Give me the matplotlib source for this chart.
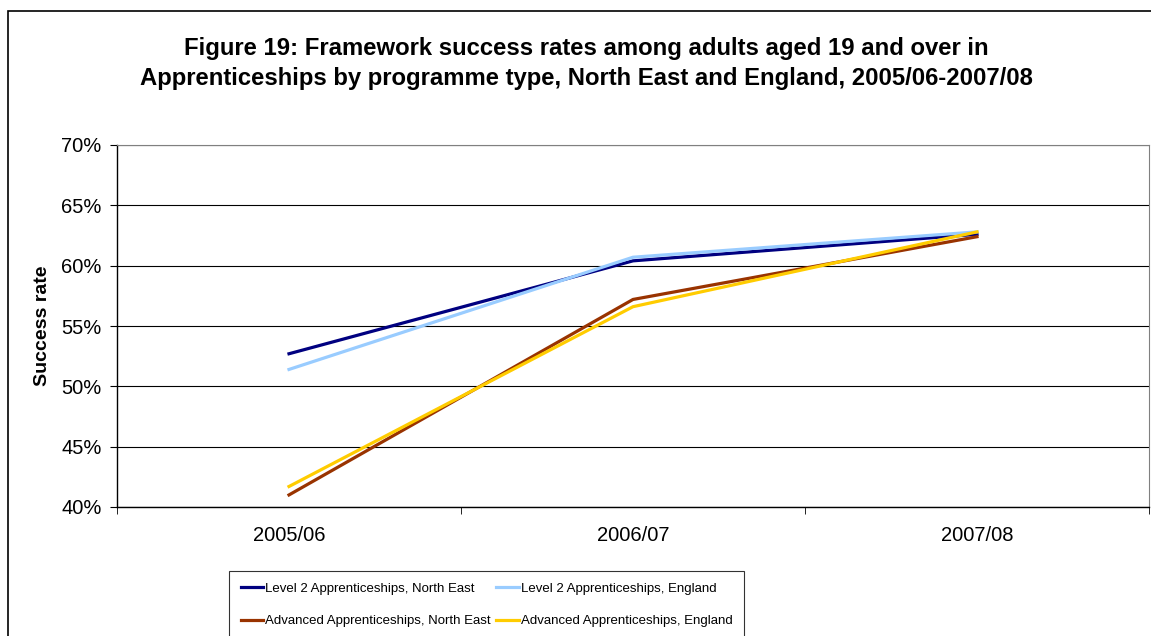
import matplotlib
matplotlib.use("Agg")
import matplotlib.pyplot as plt
from matplotlib.patches import Rectangle
from matplotlib.ticker import FuncFormatter, FixedLocator

plt.rcParams['font.family'] = ['Liberation Sans', 'DejaVu Sans']

# Success rates (%) by year
years = ['2005/06', '2006/07', '2007/08']
level2_north_east = [52.7, 60.4, 62.6]
level2_england = [51.4, 60.7, 62.8]
advanced_north_east = [41.0, 57.2, 62.4]
advanced_england = [41.7, 56.6, 62.8]

series = [
    ('Level 2 Apprenticeships, North East', level2_north_east, '#000080'),
    ('Level 2 Apprenticeships, England', level2_england, '#99ccff'),
    ('Advanced Apprenticeships, North East', advanced_north_east, '#993300'),
    ('Advanced Apprenticeships, England', advanced_england, '#ffcc00'),
]

fig = plt.figure(figsize=(11.51, 6.36), dpi=100)

# outer chart frame
fig.patches.append(Rectangle((8 / 1151, -0.05), 1.1, 1.05 - 11 / 636,
                             transform=fig.transFigure, fill=False,
                             edgecolor='black', linewidth=1.2))

ax = fig.add_axes([117 / 1151, 1 - 507 / 636, 1032 / 1151, 362 / 636])

x = list(range(len(years)))
lines = []
for label, vals, color in series:
    ln, = ax.plot(x, vals, color=color, linewidth=2.3, label=label)
    lines.append(ln)

ax.set_xlim(-0.5, 2.5)
ax.set_ylim(40, 70)
ax.set_xticks(x)
ax.set_xticklabels(years, fontsize=14.5)
ax.xaxis.set_minor_locator(FixedLocator([-0.5, 0.5, 1.5, 2.5]))
ax.tick_params(axis='x', which='major', length=0, pad=14)
ax.tick_params(axis='x', which='minor', length=5, direction='out', color='black')
ax.set_yticks(range(40, 71, 5))
ax.yaxis.set_major_formatter(FuncFormatter(lambda v, p: f'{v:.0f}%'))
ax.tick_params(axis='y', length=5, direction='out', labelsize=14.5, pad=6)
ax.yaxis.grid(True, color='black', linewidth=0.8)
ax.set_axisbelow(True)
ax.set_ylabel('Success rate', fontsize=14, fontweight='bold')
ax.yaxis.set_label_coords(-66 / 1032, 0.5)

for side in ['top', 'right']:
    ax.spines[side].set_color('#808080')
for side in ['left', 'bottom']:
    ax.spines[side].set_color('black')
    ax.spines[side].set_linewidth(1.0)

fig.text(586 / 1151, 1 - 63.5 / 636,
         'Figure 19: Framework success rates among adults aged 19 and over in\n'
         'Apprenticeships by programme type, North East and England, 2005/06-2007/08',
         ha='center', va='center', fontsize=17.2, fontweight='bold', linespacing=1.4)

# legend laid out row by row: Level 2 on top, Advanced below
order = [0, 2, 1, 3]
leg = fig.legend(handles=[lines[i] for i in order], ncol=2, loc='upper left',
                 bbox_to_anchor=(229 / 1151, 1 - 571 / 636),
                 frameon=True, fancybox=False, edgecolor='black',
                 fontsize=9.5, handlelength=1.7, handletextpad=0.15,
                 columnspacing=0.4, borderpad=0.9, labelspacing=1.5,
                 borderaxespad=0)
leg.get_frame().set_linewidth(0.8)

fig.savefig('out.png', dpi=100)
